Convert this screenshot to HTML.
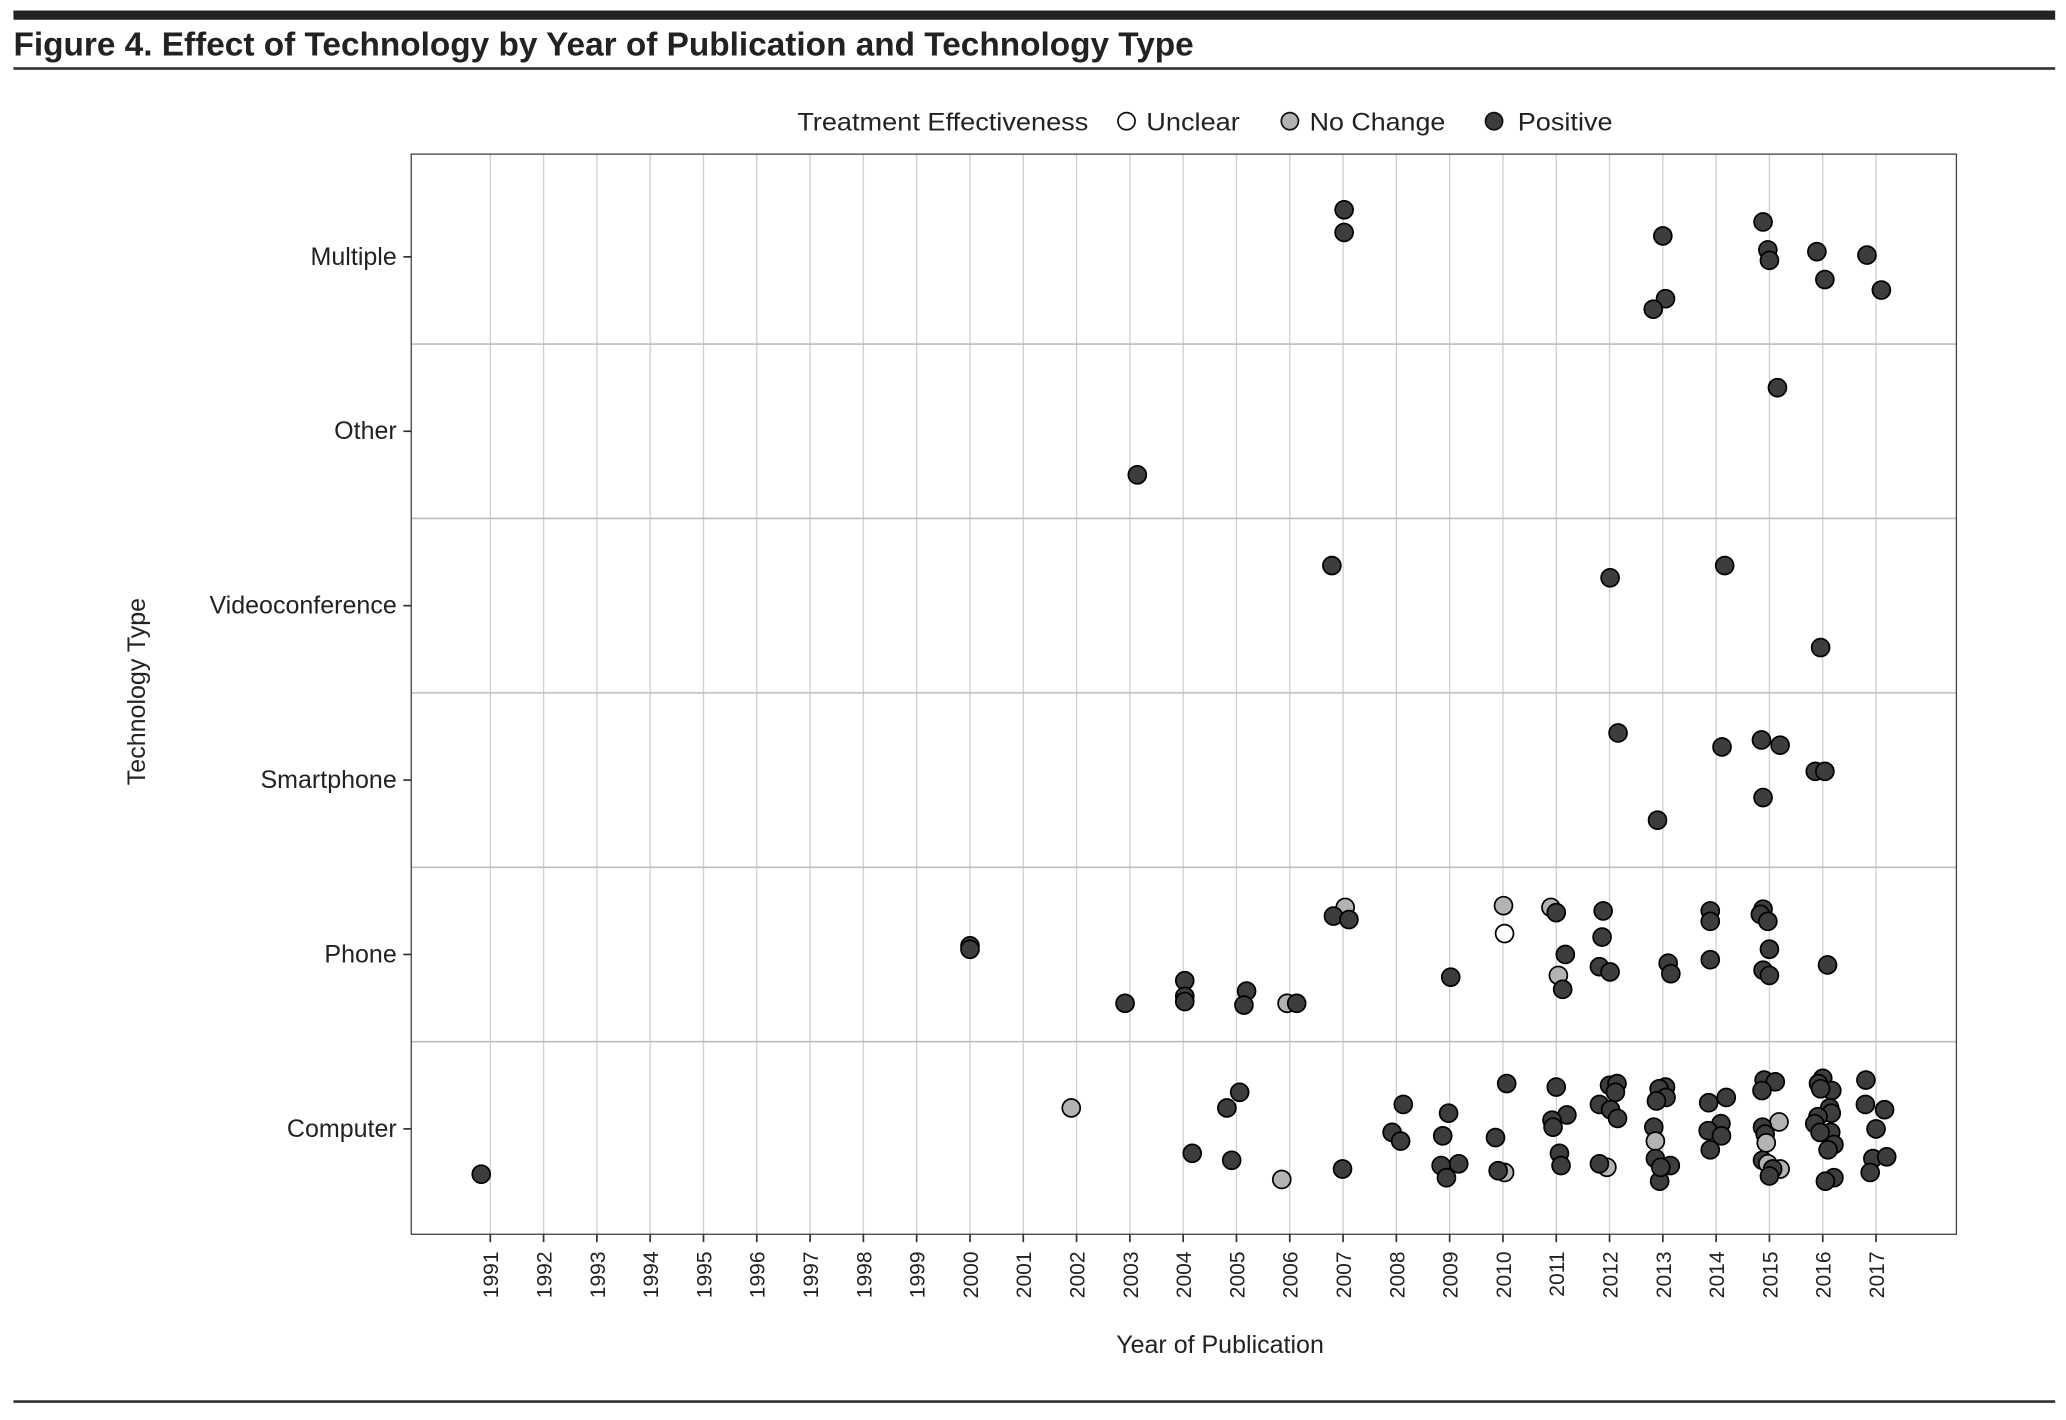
<!DOCTYPE html>
<html><head><meta charset="utf-8"><style>
html,body{margin:0;padding:0;background:#fff;}
svg{display:block;font-family:"Liberation Sans",sans-serif;}
</style></head><body>
<svg id="chart" width="2066" height="1420" viewBox="0 0 1568 1078" xmlns="http://www.w3.org/2000/svg">
<rect x="10" y="8" width="1550" height="7" fill="#222"/>
<text x="10" y="42" font-size="25" font-weight="bold" fill="#222" textLength="896" lengthAdjust="spacingAndGlyphs">Figure 4. Effect of Technology by Year of Publication and Technology Type</text>
<rect x="10" y="51" width="1550" height="2" fill="#333"/>
<rect x="10" y="1063" width="1550" height="2" fill="#333"/>
<g>
<text x="605" y="99" font-size="19" fill="#222" textLength="221" lengthAdjust="spacingAndGlyphs">Treatment Effectiveness</text>
<circle cx="855" cy="92" r="6.5" fill="#fff" stroke="#111" stroke-width="1.3"/>
<text x="870" y="99" font-size="19" fill="#222" textLength="71" lengthAdjust="spacingAndGlyphs">Unclear</text>
<circle cx="979" cy="92" r="6.5" fill="#b3b3b3" stroke="#111" stroke-width="1.3"/>
<text x="994" y="99" font-size="19" fill="#222" textLength="103" lengthAdjust="spacingAndGlyphs">No Change</text>
<circle cx="1134" cy="92" r="6.5" fill="#3d3d3d" stroke="#111" stroke-width="1.3"/>
<text x="1152" y="99" font-size="19" fill="#222" textLength="72" lengthAdjust="spacingAndGlyphs">Positive</text>
</g>
<g id="grid"></g>
<g id="pts"></g>
<rect x="312" y="117" width="1173" height="820" fill="none" stroke="#444" stroke-width="1"/>
<g id="axes"></g>
<text x="926" y="1027" font-size="19" fill="#222" text-anchor="middle">Year of Publication</text>
<text transform="translate(110,525) rotate(-90)" font-size="19" fill="#222" text-anchor="middle">Technology Type</text>
</svg>
<script>
const categories = ["Computer","Phone","Smartphone","Videoconference","Other","Multiple"];
const tickYears = [1991,1992,1993,1994,1995,1996,1997,1998,1999,2000,2001,2002,2003,2004,2005,2006,2007,2008,2009,2010,2011,2012,2013,2014,2015,2016,2017];
const effectTypes = ["Unclear","No Change","Positive"];
// jittered publication year
const years = [
2007.02,2007.02,2013.0,2014.88,2014.97,2015.0,2015.89,2016.83,2016.04,2017.1,2013.05,2012.82,
2015.15,2003.14,
2006.79,2012.01,2014.16,2015.96,
2012.16,2014.85,2015.2,2014.11,2015.86,2016.04,2014.88,2012.9,
2000.0,2000.0,2007.04,2006.82,2007.11,2010.01,2010.03,2010.9,2011.0,2011.88,2011.86,2011.17,2011.81,2012.01,2011.04,2011.12,
2013.89,2013.89,2013.1,2013.15,2013.89,2014.88,2014.83,2014.97,2015.0,2014.88,2015.0,2016.09,2009.02,
2004.03,2004.03,2004.03,2002.91,2005.19,2005.14,2005.95,2006.13,
1990.83,2001.9,2005.06,2004.82,2004.17,2004.91,2005.85,2006.99,
2008.13,2007.92,2008.08,2008.98,2008.87,2008.84,2009.17,2008.94,2010.07,2009.86,2010.03,2009.91,
2011.0,2011.2,2010.92,2010.94,2011.06,2011.09,2011.95,2011.81,2012.0,2012.14,2012.11,2011.81,2012.02,2012.15,
2013.05,2012.93,2013.06,2012.88,2012.83,2012.86,2012.86,2013.14,2012.94,2012.96,
2013.86,2014.19,2014.09,2013.85,2014.1,2013.89,
2014.9,2015.11,2014.86,2015.18,2014.87,2014.92,2014.94,2014.87,2014.97,2015.2,2015.06,2015.0,
2016.0,2015.92,2016.17,2015.96,2016.13,2016.16,2015.91,2015.85,2016.15,2015.95,2016.21,2016.1,2016.21,2016.05,
2016.81,2016.8,2017.16,2017.0,2016.94,2017.2,2016.89];
// jittered category position (0 = Computer ... 5 = Multiple)
const catValues = [
5.27,5.14,5.12,5.20,5.04,4.98,5.03,5.01,4.87,4.81,4.76,4.70,
4.25,3.75,
3.23,3.16,3.23,2.76,
2.27,2.23,2.20,2.19,2.05,2.05,1.90,1.77,
1.05,1.03,1.27,1.22,1.20,1.28,1.12,1.27,1.24,1.25,1.10,1.00,0.93,0.90,0.88,0.80,
1.25,1.19,0.95,0.89,0.97,1.26,1.23,1.19,1.03,0.91,0.88,0.94,0.87,
0.85,0.76,0.73,0.72,0.79,0.71,0.72,0.72,
-0.26,0.12,0.21,0.12,-0.14,-0.18,-0.29,-0.23,
0.14,-0.02,-0.07,0.09,-0.04,-0.21,-0.20,-0.28,0.26,-0.05,-0.25,-0.24,
0.24,0.08,0.05,0.01,-0.14,-0.21,-0.22,-0.20,0.25,0.26,0.21,0.14,0.11,0.06,
0.24,0.23,0.18,0.16,0.01,-0.07,-0.17,-0.21,-0.30,-0.22,
0.15,0.18,0.03,-0.01,-0.04,-0.12,
0.28,0.27,0.22,0.04,0.01,-0.03,-0.08,-0.18,-0.20,-0.23,-0.23,-0.27,
0.29,0.26,0.22,0.23,0.12,0.09,0.07,0.03,-0.02,-0.02,-0.09,-0.12,-0.28,-0.30,
0.28,0.14,0.11,0.00,-0.17,-0.16,-0.25];
// effect index: 0 Unclear, 1 No Change, 2 Positive
const effects = [
2,2,2,2,2,2,2,2,2,2,2,2,
2,2,
2,2,2,2,
2,2,2,2,2,2,2,2,
2,2,1,2,2,1,0,1,2,2,2,2,2,2,1,2,
2,2,2,2,2,2,2,2,2,2,2,2,2,
2,2,2,2,2,2,1,2,
2,1,2,2,2,2,1,2,
2,2,2,2,2,2,2,2,2,2,1,2,
2,2,2,2,2,2,1,2,2,2,2,2,2,2,
2,2,2,2,2,1,2,2,2,2,
2,2,2,2,2,2,
2,2,2,1,2,2,1,2,1,1,2,2,
2,2,2,2,2,2,2,2,2,2,2,2,2,2,
2,2,2,2,2,2,2];

const NS="http://www.w3.org/2000/svg";
const PL=312,PR=1485,PT=117,PB=937;
const xScale = y => 372 + (y-1991)*(1424-372)/26;
const yScale = c => 857 - c*132.4;
const fills = ["#ffffff","#b3b3b3","#3d3d3d"];
function mk(tag, attrs){const e=document.createElementNS(NS,tag);for(const k in attrs)e.setAttribute(k,attrs[k]);return e;}
const grid=document.getElementById('grid'), axes=document.getElementById('axes'), pts=document.getElementById('pts');
tickYears.forEach(yr=>{
  const x=xScale(yr);
  const l=mk('line',{x1:x,x2:x,y1:PT,y2:PB,stroke:'#cfcfcf','stroke-width':1});
  
  
  grid.appendChild(l);
  const t=mk('line',{x1:x,x2:x,y1:PB,y2:PB+6,stroke:'#333','stroke-width':1.3});
  
  
  axes.appendChild(t);
  const tx=mk('text',{transform:`translate(${x+6},${PB+13}) rotate(-90)`,'font-size':16,fill:'#222','text-anchor':'end'});
  tx.textContent=yr;
  
  
  axes.appendChild(tx);
});
for(let i=0;i<categories.length-1;i++){
  const y=yScale(i+0.5);
  const l=mk('line',{x1:PL,x2:PR,y1:y,y2:y,stroke:'#bdbdbd','stroke-width':1.2});
  
  
  grid.appendChild(l);
}
categories.forEach((c,i)=>{
  const y=yScale(i);
  const t=mk('line',{x1:PL-6,x2:PL,y1:y,y2:y,stroke:'#333','stroke-width':1.3});
  
  
  axes.appendChild(t);
  const tx=mk('text',{x:PL-11,y:y+6,'font-size':19,fill:'#222','text-anchor':'end'});
  tx.textContent=c;
  
  
  axes.appendChild(tx);
});
years.forEach((yr,i)=>{
  const c=mk('circle',{cx:xScale(yr),cy:yScale(catValues[i]),r:6.8,fill:fills[effects[i]],stroke:'#000','stroke-width':1.3});
  
  
  pts.appendChild(c);
});
</script>
</body></html>
